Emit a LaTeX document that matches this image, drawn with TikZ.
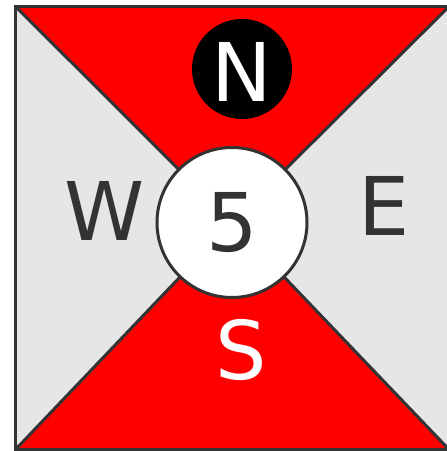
\documentclass[tikz,border=0pt]{standalone}
\usepackage{fontspec}
\setmainfont{DejaVu Sans}
\definecolor{dk}{HTML}{333333}
\definecolor{lg}{HTML}{E6E6E6}
\begin{document}
\begin{tikzpicture}[x=1pt,y=-1pt,
  edge/.style={draw=dk,line width=3pt,line join=miter},
  lbl/.style={font=\fontsize{81}{81}\selectfont,inner sep=0pt}]
\useasboundingbox (0,0) rectangle (447,451);
\clip (0,0) rectangle (447,451);
\coordinate (tl) at (15.5,6.5);
\coordinate (tr) at (449,6.5);
\coordinate (bl) at (15.5,449.5);
\coordinate (br) at (449,449.5);
\coordinate (rr) at (462,449.5);
\coordinate (c) at (232,222.5);
\fill[red] (tl)--(tr)--(c)--cycle;
\fill[red] (bl)--(br)--(c)--cycle;
\fill[lg] (tl)--(bl)--(c)--cycle;
\fill[lg] (tr)--(br)--(rr)--(462,6.5)--cycle;
\fill[lg] (tr)--(br)--(c)--cycle;
\draw[edge] (tl)--(c)--(br);
\draw[edge] (tr)--(c)--(bl);
\draw[edge] (tl) rectangle (rr);
\node[circle,draw=dk,line width=3pt,fill=white,minimum size=150pt,lbl,text=dk] (five) at (c) {5};
\node[circle,fill=black,minimum size=100pt,inner sep=0pt] (ncirc) at (242,69) {};
\node[lbl,text=white] (n) at ([yshift=-3pt]ncirc.center) {N};
\node[lbl,text=dk] (w) at (104.5,210.5) {W};
\node[lbl,text=dk] (e) at (384,205.5) {E};
\node[lbl,text=white] (s) at (241.5,350) {S};
\end{tikzpicture}
\end{document}
